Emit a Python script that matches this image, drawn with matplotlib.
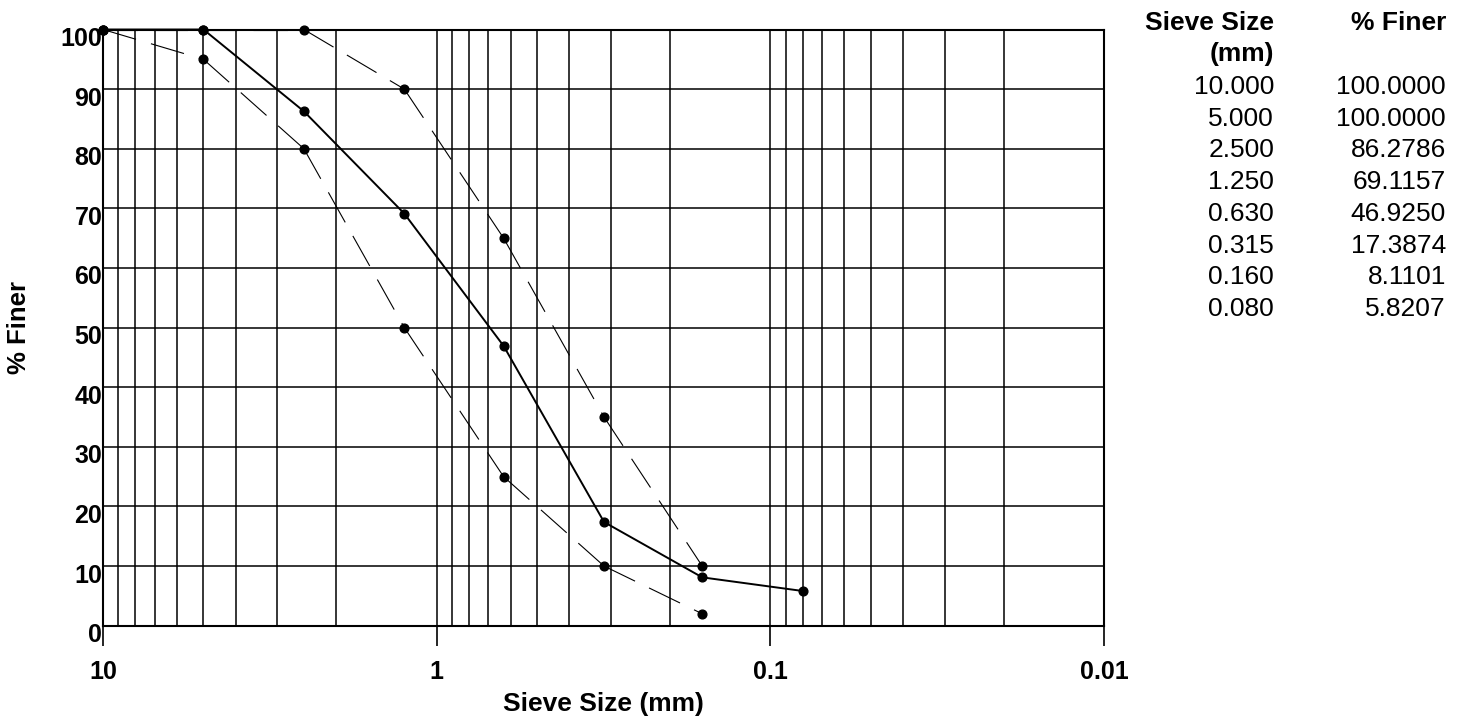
import matplotlib
matplotlib.use("Agg")
import matplotlib.pyplot as plt
import matplotlib.transforms as mtransforms
from matplotlib.ticker import LogLocator, NullFormatter, FixedLocator, FixedFormatter

plt.rcParams['font.family'] = ['Liberation Sans', 'DejaVu Sans']

# gradation data
sieve = [10.0, 5.0, 2.5, 1.25, 0.63, 0.315, 0.16, 0.08]
finer = [100.0, 100.0, 86.2786, 69.1157, 46.9250, 17.3874, 8.1101, 5.8207]

# envelope limits
lim_sieve = [10.0, 5.0, 2.5, 1.25, 0.63, 0.315, 0.16]
upper = [100, 100, 100, 90, 65, 35, 10]
lower = [100, 95, 80, 50, 25, 10, 2]

sieve_labels = ["10.000", "5.000", "2.500", "1.250", "0.630", "0.315", "0.160", "0.080"]
finer_labels = ["100.0000", "100.0000", "86.2786", "69.1157", "46.9250", "17.3874", "8.1101", "5.8207"]

W, H = 1466, 719
fig = plt.figure(figsize=(W / 100, H / 100), dpi=100)
ax = fig.add_axes([103 / W, 1 - 625.7 / H, (1104 - 103) / W, (625.7 - 29.5) / H])

ax.set_xscale('log')
ax.set_xlim(10, 0.01)
ax.set_ylim(0, 100)

# grid
ax.xaxis.set_major_locator(FixedLocator([10, 1, 0.1, 0.01]))
ax.xaxis.set_major_formatter(FixedFormatter(["10", "1", "0.1", "0.01"]))
ax.xaxis.set_minor_locator(LogLocator(base=10, subs=range(2, 10)))
ax.xaxis.set_minor_formatter(NullFormatter())
ax.set_yticks(range(0, 101, 10))
ax.grid(which='both', axis='x', color='black', linewidth=1.1)
ax.grid(which='major', axis='y', color='black', linewidth=1.1)
ax.set_axisbelow(True)

for sp in ax.spines.values():
    sp.set_linewidth(1.5)

ax.tick_params(axis='x', which='major', direction='out', length=14.5, width=1.2,
               pad=10, labelsize=18)
ax.tick_params(axis='x', which='minor', length=0)
ax.tick_params(axis='y', length=0, pad=0.5, labelsize=18)
for lab in ax.get_xticklabels() + ax.get_yticklabels():
    lab.set_fontweight('bold')
off = mtransforms.ScaledTranslation(0, -7 / 100, fig.dpi_scale_trans)
for lab in ax.get_yticklabels():
    lab.set_transform(lab.get_transform() + off)

# dashed envelopes, dash pattern restarting at every point
for ys in (upper, lower):
    for i in range(len(lim_sieve) - 1):
        ax.plot(lim_sieve[i:i + 2], ys[i:i + 2], color='black', linewidth=0.8,
                linestyle=(0, (31, 14)), clip_on=False, zorder=3)
    ax.plot(lim_sieve, ys, linestyle='none', marker='o', markersize=6.3,
            color='black', clip_on=False, zorder=4)

ax.plot(sieve, finer, color='black', linewidth=1.4, marker='o', markersize=6.3,
        clip_on=False, zorder=5)

ax.set_xlabel("Sieve Size (mm)", fontsize=19, fontweight='bold')
ax.set_ylabel("% Finer", fontsize=18.5, fontweight='bold')
ax.xaxis.set_label_coords(0.5, -0.111)
ax.yaxis.set_label_coords(-0.072, 0.5)

# table on the right
c1, c2 = 1274 / W, 1446 / W
fig.text(c1, 1 - 30 / H, "Sieve Size", ha='right', va='baseline', fontsize=19, fontweight='bold')
fig.text(c1, 1 - 61 / H, "(mm)", ha='right', va='baseline', fontsize=19, fontweight='bold')
fig.text(c2, 1 - 30 / H, "% Finer", ha='right', va='baseline', fontsize=19, fontweight='bold')
for i, (s, f) in enumerate(zip(sieve_labels, finer_labels)):
    yb = 1 - (94 + i * 31.7) / H
    fig.text(c1, yb, s, ha='right', va='baseline', fontsize=19)
    fig.text(c2, yb, f, ha='right', va='baseline', fontsize=19)

fig.savefig("out.png", dpi=100)
